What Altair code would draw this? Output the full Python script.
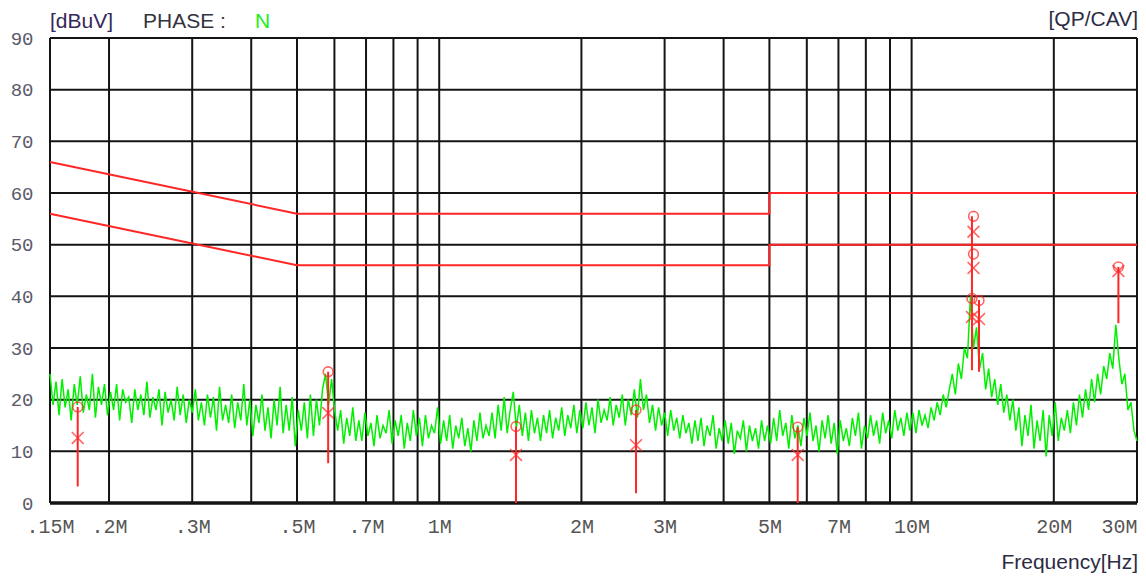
import numpy as np
import pandas as pd
import altair as alt

# ---------------- data ----------------
# green sweep trace (dBuV), sampled evenly in log frequency from 0.15 MHz to 30 MHz
trace_db = [
    25, 19, 23.5, 17, 24, 18.5, 22, 16, 23, 19,
    24.5, 17.5, 21, 18, 25, 16.5, 22.5, 19, 23, 17,
    21.5, 18, 23, 16, 22, 19.5, 20.5, 15.5, 22, 18,
    21, 17, 23.5, 16.5, 20.5, 18, 22, 15, 21.5, 17.5,
    20, 16, 22.5, 17, 21, 15.5, 20, 17.5, 22, 16,
    19.5, 15, 21, 16.5, 20.5, 14, 22.5, 16, 19, 15.5,
    21, 14.5, 19.5, 16, 23, 15, 20, 13, 19, 15.5,
    21, 14, 18.5, 12.5, 20, 15, 22.5, 13.5, 19, 14,
    20.5, 11, 18, 14, 19.5, 12.5, 21, 13, 20, 15,
    22, 25, 19, 24, 18,
    14, 18, 11.5, 16.5, 13, 18.5, 12,
    16, 12, 17.5, 13, 15.5, 11, 17, 12.5, 15, 13.5,
    18, 11.5, 16, 13, 17, 10.5, 15.5, 12, 18, 13,
    16.5, 11, 17, 12.5, 15, 13.5, 18.5, 11.5,
    16, 12, 17, 10.5, 15, 12.5, 16.5, 11, 14.5, 10,
    16, 12, 17.5, 12.5, 15,
    13, 17.5, 12.5, 19, 14, 20.5, 13.5, 18, 21.5, 14.5,
    19, 13, 17.5, 12, 18, 13.5, 16.5,
    12, 17, 13.5, 18, 12.5, 16.5, 14, 18.5, 13, 17,
    14.5, 19, 13.5,
    18, 14.5, 19.5, 15, 18.5, 13.5, 20, 15.5, 18, 16,
    20.5, 15, 19, 16.5, 21, 15, 20, 17, 22, 16.5,
    24,
    18, 21, 15.5, 19, 14, 18.5, 15, 17.5, 13, 18,
    14, 16.5, 12.5, 17, 13.5, 15.5, 11.5, 16,
    12, 16.5, 11, 15, 13, 17, 10.5, 14.5, 12, 16,
    11.5, 15.5, 9.5, 14, 12.5, 16, 10, 15, 12, 14.5,
    10.5, 16, 12, 15,
    11.5, 16.5, 12, 18, 13, 15.5, 10.5, 17, 12.5, 15,
    11, 16.5, 13, 17.5, 12, 15, 10, 16, 12.5, 17,
    11.5, 15.5, 9.5, 16, 12, 14.5,
    11, 16.5, 13, 17.5, 10.5, 15, 12.5, 17, 13, 16,
    11.5, 17.5, 13.5, 16, 12.5, 18, 14, 16.5, 13, 17.5,
    14, 17.5, 13.5, 18, 15, 17, 14.5, 18.5, 16, 19.5,
    17, 21, 18.5,
    22, 25, 21, 27, 24, 30, 28,
    40, 30, 34, 26,
    29, 22, 26, 20.5, 24, 19, 23, 17.5, 21, 16, 20,
    14, 18.5, 11, 17, 13, 19, 10.5, 16, 12, 18,
    9, 17, 13, 19.5, 12, 16.5, 14,
    18, 13.5, 19.5, 15, 21, 16.5, 22, 18, 24, 19.5,
    25, 21, 26.5,
    24, 29, 26, 34.5, 28,
    23, 25, 18, 19.5, 14, 12,
]
trace_mhz = np.logspace(np.log10(0.15), np.log10(30), len(trace_db))

# limit lines
limit_mhz = [0.15, 0.5, 5, 5, 30]
qp_limit_db = [66, 56, 56, 60, 60]
av_limit_db = [56, 46, 46, 50, 50]

# final measurement markers
mark_mhz = [0.1717, 0.582, 1.454, 2.61, 5.74, 13.52, 13.52, 13.42, 13.89, 27.4]
qp_db = [18.6, 25.4, 14.8, 18.0, 14.7, 55.5, 48.2, 39.6, 39.2, 45.7]
av_db = [12.6, 17.4, 9.3, 11.2, 9.3, 52.5, 45.5, 36.0, 35.6, 44.9]

# vertical marker lines
stem_mhz = [0.1717, 0.582, 1.454, 2.61, 5.74, 13.42, 13.89, 27.4]
stem_top_db = [18.6, 25.4, 14.8, 18.0, 14.7, 55.5, 39.3, 45.7]
stem_bot_db = [3.2, 7.7, 0, 1.9, 0, 25.7, 25.4, 34.8]

# grid and ticks
grid_mhz = [0.15, 0.2, 0.3, 0.4, 0.5, 0.6, 0.7, 0.8, 0.9, 1, 2, 3, 4, 5, 6, 7, 8, 9, 10, 20, 30]
grid_db = [0, 10, 20, 30, 40, 50, 60, 70, 80, 90]
tick_mhz = [0.15, 0.2, 0.3, 0.5, 0.7, 1, 2, 3, 5, 7, 10, 20, 30]
tick_text = [".15M", ".2M", ".3M", ".5M", ".7M", "1M", "2M", "3M", "5M", "7M", "10M", "20M", "30M"]

# ---------------- chart ----------------
W, H = 1087, 465
RED = "#ff2626"
GRID = "#141414"
MONO = "Liberation Mono"
SANS = "Liberation Sans"

xs = alt.Scale(type="log", domain=[0.15, 30], nice=False)
ys = alt.Scale(domain=[0, 90], nice=False)

label_expr = " : ".join(f"datum.value == {v} ? '{t}'" for v, t in zip(tick_mhz, tick_text)) + " : ''"

AX = alt.Axis(
    values=tick_mhz, labelExpr=label_expr, grid=False, ticks=False, domain=False,
    labelFont=MONO, labelFontSize=20, labelColor="#555555", labelPadding=13,
    labelOverlap=False, labelFlush=False, title=None,
    labelAlign={"condition": {"test": "datum.value >= 30", "value": "right"}, "value": "center"},
)
AY = alt.Axis(
    values=grid_db, grid=False, ticks=False, domain=False,
    labelFont=MONO, labelFontSize=19, labelColor="#5a5a6a", labelPadding=17, title=None,
)

def X(field):
    return alt.X(field, scale=xs, axis=AX)

def Y(field):
    return alt.Y(field, scale=ys, axis=AY)

df_trace = pd.DataFrame({"f": trace_mhz, "d": trace_db})
df_lim = pd.DataFrame({
    "f": limit_mhz + limit_mhz,
    "d": qp_limit_db + av_limit_db,
    "s": ["QP"] * len(limit_mhz) + ["AV"] * len(limit_mhz),
    "o": list(range(len(limit_mhz))) * 2,
})
df_marks = pd.DataFrame({"f": mark_mhz, "qp": qp_db, "av": av_db})
df_stem = pd.DataFrame({"f": stem_mhz, "t": stem_top_db, "b": stem_bot_db})
df_gx = pd.DataFrame({"f": grid_mhz})
df_gy = pd.DataFrame({"d": grid_db})

vgrid = alt.Chart(df_gx).mark_rule(color=GRID, strokeWidth=2).encode(
    x=X("f:Q"), y=alt.value(0), y2=alt.value(H),
)

hgrid = alt.Chart(df_gy).mark_rule(color=GRID).encode(
    y=Y("d:Q"), x=alt.value(0), x2=alt.value(W),
    strokeWidth=alt.condition(alt.datum.d == 0, alt.value(3.5), alt.value(2)),
)

trace = alt.Chart(df_trace).mark_line(color="#00f000", strokeWidth=1.5).encode(
    x=X("f:Q"), y=Y("d:Q"),
)

limits = alt.Chart(df_lim).mark_line(color=RED, strokeWidth=2).encode(
    x=X("f:Q"), y=Y("d:Q"), detail="s:N", order="o:Q",
)

stems = alt.Chart(df_stem).mark_rule(color=RED, strokeWidth=2).encode(
    x=X("f:Q"), y=Y("t:Q"), y2="b:Q",
)

qp_pts = alt.Chart(df_marks).mark_point(shape="circle", filled=False, color=RED, size=95, strokeWidth=1.6).encode(
    x=X("f:Q"), y=Y("qp:Q"),
)

av_pts = alt.Chart(df_marks).mark_point(shape="M-1,-1L1,1M-1,1L1,-1", filled=False, color=RED, size=140, strokeWidth=1.6).encode(
    x=X("f:Q"), y=Y("av:Q"),
)

def label(text, x, y, color, align="left"):
    return alt.Chart(pd.DataFrame({"t": [text]})).mark_text(
        align=align, baseline="middle", font=SANS, fontSize=21, color=color,
    ).encode(x=alt.value(x), y=alt.value(y), text="t:N")

titles = [
    label("[dBuV]", 0, -16, "#35285a"),
    label("PHASE :", 93, -16, "#333340"),
    label("N", 205, -16, "#22ee22"),
    label("[QP/CAV]", W + 1, -18, "#2c2c44", "right"),
    label("Frequency[Hz]", W + 1, 525, "#2c2c44", "right"),
]

chart = alt.layer(vgrid, hgrid, trace, limits, stems, qp_pts, av_pts, *titles).properties(
    width=W, height=H,
    autosize=alt.AutoSizeParams(type="none"),
    padding={"left": 42, "top": 30, "right": 1, "bottom": 72},
).configure_view(stroke=None).configure(background="white")

chart.save("out.html", embed_options={"renderer": "svg", "actions": False})
